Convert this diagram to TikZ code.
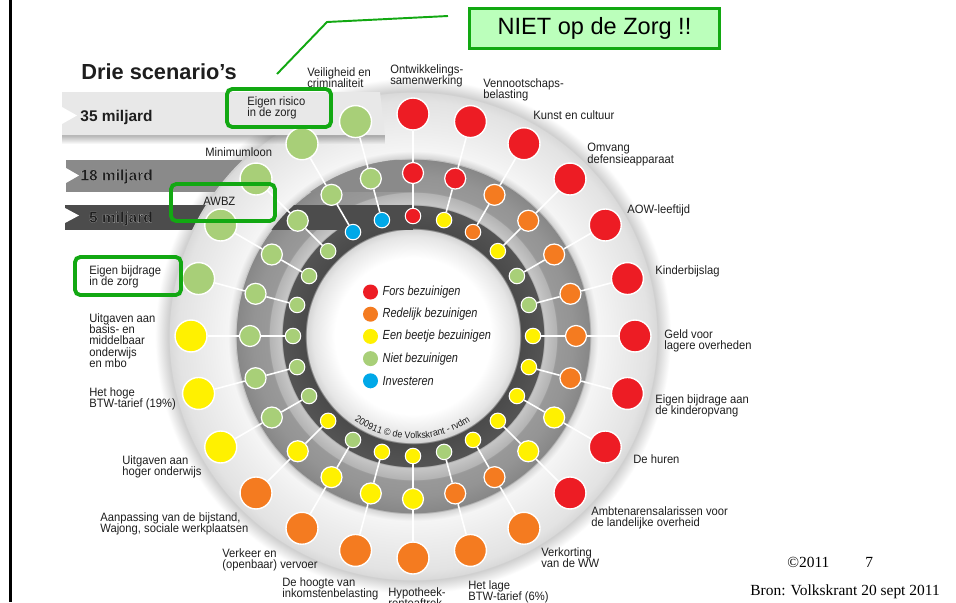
\documentclass[tikz,border=0pt]{standalone}
\usepackage{fontspec}
\setmainfont{Liberation Sans}
\newfontfamily\vk{Liberation Sans}[FakeStretch=0.925]
\newfontfamily\vkleg{Liberation Sans}[FakeStretch=0.83]
\newfontfamily\bronfont{Liberation Serif}
\usepackage{xcolor}
\usepackage{tikz}
\usetikzlibrary{positioning,fadings,decorations.text}
\definecolor{fors}{HTML}{ED1C24}
\definecolor{redelijk}{HTML}{F47B20}
\definecolor{beetje}{HTML}{FFF100}
\definecolor{niet}{HTML}{A8CF78}
\definecolor{invest}{HTML}{00A8E8}
\definecolor{kader}{HTML}{12A812}
\definecolor{kaderfill}{HTML}{BBFFBB}
\definecolor{ink}{HTML}{1E1E1E}
\pgfdeclareradialshading{dial}{\pgfpointorigin}{%
color(0bp)=(white); color(7.56bp)=(white); color(9.69bp)=(black!10);
color(10.37bp)=(black!17); color(10.41bp)=(black!71); color(12.69bp)=(black!67);
color(12.73bp)=(black!22); color(13.95bp)=(black!30); color(13.99bp)=(black!40);
color(15.5bp)=(black!42); color(17.15bp)=(black!47); color(17.19bp)=(black!18);
color(17.93bp)=(black!4); color(19.86bp)=(black!7); color(22.77bp)=(black!11);
color(23.64bp)=(black!15); color(23.68bp)=(black!19); color(25bp)=(white);
color(50bp)=(white)}
\newcommand\halotext[1]{\special{pdf:code 2 Tr 0.85 0.85 0.85 RG 0.05 w}#1\special{pdf:code 0 Tr}}
\tikzset{
bigdot/.style={
circle,
draw=white,
line width=0.8pt,
minimum size=0.64cm,
inner sep=0pt
},
middot/.style={
circle,
draw=white,
line width=0.7pt,
minimum size=0.42cm,
inner sep=0pt
},
smalldot/.style={
circle,
draw=white,
line width=0.6pt,
minimum size=0.31cm,
inner sep=0pt
},
legdot/.style={
circle,
minimum size=0.3cm,
inner sep=0pt
},
spoke/.style={
draw=white,
line width=0.9pt
},
itemtext/.style={
anchor=north west,
inner sep=0pt,
align=left,
text=ink,
font=\vk\fontsize{6.9}{6.5}\selectfont
},
legtext/.style={
inner sep=0pt,
text=ink,
font=\vkleg\itshape\fontsize{7.5}{8}\selectfont
},
bandtext/.style={
anchor=base east,
inner sep=0pt,
text=ink,
font=\bfseries\fontsize{8.8}{10}\selectfont
},
zorgbox/.style={
draw=kader,
line width=2.2pt,
rounded corners=3pt
},
callout/.style={
draw=kader,
line width=1.1pt
}
}

\begin{document}
\begin{tikzpicture}[x=0.02cm,y=-0.02cm]
\useasboundingbox (0,0) rectangle (956,602);
\clip (0,0) rectangle (956,602);
\fill[white] (0,0) rectangle (956,602);
\draw[line width=1.5pt] (10.5,0) -- (10.5,602);
\coordinate (C) at (413,336);

% rings, with the 18 and 5 bands running into them
\shade[shading=dial] (C) circle[radius=258];
\fill[black!46] (66,160) rectangle (413,192);
\fill[black!70] (65,205) rectangle (413,230);
\begin{scope}[even odd rule]
\clip (C) circle[radius=245] (C) circle[radius=177];
\shade[shading=dial] (C) circle[radius=258];
\end{scope}
\fill[black,path fading=south,fill opacity=.3] (62,135) rectangle (385,144);
\fill[black!9] (62,92) -- (380,92) -- (385,135) -- (62,135) -- cycle;
\fill[white] (62,107) -- (77,115.5) -- (62,124) -- cycle;
\fill[white] (66,168) -- (79,175.5) -- (66,183) -- cycle;
\fill[white] (65,208) -- (79,215.5) -- (65,223) -- cycle;

\node[bandtext] (b35) at (153,121.5) {35 miljard};
\node[bandtext] (b18) at (153,180.5) {\halotext{18 miljard}};
\node[bandtext] (b5) at (153,222.5) {\halotext{5 miljard}};
\node[anchor=base west,inner sep=0pt,text=ink,font=\bfseries\fontsize{12.4}{14}\selectfont] (titel) at (81,79.5) {Drie scenario’s};

% dots: outer = 35, middle = 18, inner = 5 miljard
\foreach \k/\co/\cm/\ci in {0/fors/fors/fors,1/fors/fors/beetje,2/fors/redelijk/redelijk,
3/fors/redelijk/beetje,4/fors/redelijk/niet,5/fors/redelijk/niet,6/fors/redelijk/beetje,
7/fors/redelijk/beetje,8/fors/beetje/beetje,9/fors/beetje/beetje,10/redelijk/redelijk/beetje,
11/redelijk/redelijk/niet,12/redelijk/beetje/beetje,13/redelijk/beetje/beetje,
14/redelijk/beetje/niet,15/redelijk/beetje/beetje,16/beetje/niet/niet,17/beetje/niet/niet,
18/beetje/niet/niet,19/niet/niet/niet,20/niet/niet/niet,21/niet/niet/niet,
22/niet/niet/invest,23/niet/niet/invest}{
\node[bigdot,fill=\co] (o\k) at ([shift={({-90+15*\k}:222)}]C) {};
\node[middot,fill=\cm] (m\k) at ([shift={({-90+15*\k}:163)}]C) {};
\node[smalldot,fill=\ci] (i\k) at ([shift={({-90+15*\k}:120)}]C) {};
}
\foreach \k in {0,...,23}
\draw[spoke] (i\k) -- (m\k) -- (o\k);

% legend
\node[legdot,fill=fors] (lfors) at (370.5,292) {};
\node[legdot,fill=redelijk,below=0.13cm of lfors] (lred) {};
\node[legdot,fill=beetje,below=0.13cm of lred] (lbeetje) {};
\node[legdot,fill=niet,below=0.13cm of lbeetje] (lniet) {};
\node[legdot,fill=invest,below=0.13cm of lniet] (linv) {};
\node[legtext,right=0.08cm of lfors] (tfors) {Fors bezuinigen};
\node[legtext,right=0.08cm of lred] (tred) {Redelijk bezuinigen};
\node[legtext,right=0.08cm of lbeetje] (tbeetje) {Een beetje bezuinigen};
\node[legtext,right=0.08cm of lniet] (tniet) {Niet bezuinigen};
\node[legtext,right=0.08cm of linv] (tinv) {Investeren};

\path[decorate,decoration={text along path,text align=center,
text={|\vk\fontsize{5.5}{6}\selectfont\color{ink}|200911 © de Volkskrant - rvdm}}]
([shift={(127.9:103)}]C) arc[start angle=127.9,end angle=52.9,radius=103];

% labels
\node[itemtext] (tveil) at (307,67) {Veiligheid en\\criminaliteit};
\node[itemtext] (tontw) at (390,64) {Ontwikkelings-\\samenwerking};
\node[itemtext] (tvenn) at (483,78) {Vennootschaps-\\belasting};
\node[itemtext] (tkunst) at (533,110) {Kunst en cultuur};
\node[itemtext] (tdef) at (587,143) {Omvang\\defensieapparaat};
\node[itemtext] (taow) at (627,204) {AOW-leeftijd};
\node[itemtext] (tkind) at (655,265) {Kinderbijslag};
\node[itemtext] (tgeld) at (664,329) {Geld voor\\lagere overheden};
\node[itemtext] (topvang) at (655,394) {Eigen bijdrage aan\\de kinderopvang};
\node[itemtext] (thuur) at (633,454) {De huren};
\node[itemtext] (tambt) at (591,506) {Ambtenarensalarissen voor\\de landelijke overheid};
\node[itemtext] (tww) at (541,547) {Verkorting\\van de WW};
\node[itemtext] (tlaag) at (468,580) {Het lage\\BTW-tarief (6\%)};
\node[itemtext] (thyp) at (388,587) {Hypotheek-\\renteaftrek};
\node[itemtext] (tink) at (282,577) {De hoogte van\\inkomstenbelasting};
\node[itemtext] (tverk) at (222,548) {Verkeer en\\(openbaar) vervoer};
\node[itemtext] (tbijst) at (100,512) {Aanpassing van de bijstand,\\Wajong, sociale werkplaatsen};
\node[itemtext] (thoger) at (122,455) {Uitgaven aan\\hoger onderwijs};
\node[itemtext] (thoog) at (89,387) {Het hoge\\BTW-tarief (19\%)};
\node[itemtext] (tbasis) at (89,313) {Uitgaven aan\\basis- en\\middelbaar\\onderwijs\\en mbo};
\node[itemtext] (tzorg) at (89,265) {Eigen bijdrage\\in de zorg};
\node[itemtext] (tawbz) at (203,197) {AWBZ};
\node[itemtext] (tmin) at (205,147) {Minimumloon};
\node[itemtext] (trisico) at (247,96) {Eigen risico\\in de zorg};

% green marks
\draw[zorgbox] (227,89) rectangle (331,127);
\draw[zorgbox] (171,184) rectangle (275,221);
\draw[zorgbox] (75,257) rectangle (181,295);
\node[draw=kader,fill=kaderfill,line width=1.5pt,minimum width=5cm,minimum height=0.8cm,
font=\fontsize{13.4}{16}\selectfont] (niet) at (594.5,28.5) {NIET op de Zorg !!};
\coordinate (c1) at (448,16);
\coordinate (c2) at (327,22);
\coordinate (c3) at (277,74);
\draw[callout] (c1) -- (c2) -- (c3);

\node[anchor=base west,inner sep=0pt,font=\bronfont\fontsize{8.8}{10}\selectfont] (copy) at (787,567.5) {©2011};
\node[anchor=base west,inner sep=0pt,font=\bronfont\fontsize{8.8}{10}\selectfont] (page) at (865,567.5) {7};
\node[anchor=base west,inner sep=0pt,font=\bronfont\fontsize{8.8}{10}\selectfont] (bron) at (750,595.5) {Bron: Volkskrant 20 sept 2011};
\end{tikzpicture}
\end{document}
